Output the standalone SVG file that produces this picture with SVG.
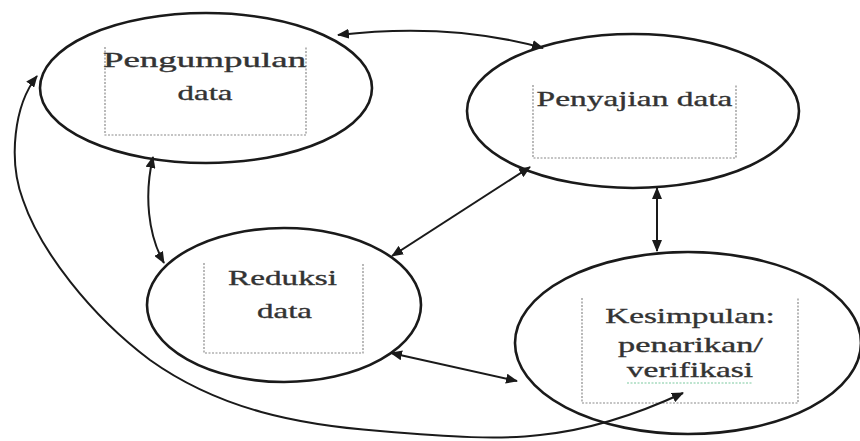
<svg xmlns="http://www.w3.org/2000/svg" width="860" height="441" viewBox="0 0 860 441">
<defs>
<marker id="ah" viewBox="0 0 12 10" refX="11" refY="5" markerWidth="12" markerHeight="10" markerUnits="userSpaceOnUse" orient="auto-start-reverse">
<path d="M0 0 L12 5 L0 10 Z" fill="#1a1a1a"/>
</marker>
</defs>
<style>
.node ellipse{fill:none;stroke:#1a1a1a;stroke-width:2.6}
.box{fill:none;stroke:#8a8a8a;stroke-width:1.2;stroke-dasharray:2 1.5}
.lbl{font-family:"Liberation Serif","Times New Roman",serif;font-size:22px;fill:#333;stroke:#333;stroke-width:0.35;text-anchor:middle}
.conn path{fill:none;stroke:#1a1a1a;stroke-width:2;marker-start:url(#ah);marker-end:url(#ah)}
</style>
<rect width="860" height="441" fill="#fff"/>
<g id="pengumpulan" class="node">
<ellipse cx="206" cy="88" rx="166" ry="75"/>
<path class="box" d="M105 47 V135 H306 V47"/>
<text class="lbl" font-family="Liberation Serif, serif" transform="translate(204.5 67) scale(1.68 1)">Pengumpulan</text>
<text class="lbl" font-family="Liberation Serif, serif" transform="translate(205 100) scale(1.5 1)">data</text>
</g>
<g id="penyajian" class="node">
<ellipse cx="633" cy="111" rx="166" ry="77"/>
<path class="box" d="M533 85 V158 H736 V85"/>
<text class="lbl" font-family="Liberation Serif, serif" transform="translate(634.5 106) scale(1.52 1)">Penyajian data</text>
</g>
<g id="reduksi" class="node">
<ellipse cx="284" cy="305" rx="137" ry="77"/>
<path class="box" d="M204 263 V353 H363 V263"/>
<text class="lbl" font-family="Liberation Serif, serif" transform="translate(282.5 285) scale(1.51 1)">Reduksi</text>
<text class="lbl" font-family="Liberation Serif, serif" transform="translate(284.5 318) scale(1.5 1)">data</text>
</g>
<g id="kesimpulan" class="node">
<ellipse cx="688" cy="343" rx="173" ry="91"/>
<path class="box" d="M582 298 V403 H798 V298"/>
<text class="lbl" font-family="Liberation Serif, serif" transform="translate(690 323) scale(1.51 1)">Kesimpulan:</text>
<text class="lbl" font-family="Liberation Serif, serif" transform="translate(690.5 352) scale(1.56 1)">penarikan/</text>
<text class="lbl" font-family="Liberation Serif, serif" transform="translate(690 377) scale(1.52 1)">verifikasi</text>
<path d="M627 383 H753" stroke="#7cc9a0" stroke-width="1.2" stroke-dasharray="2 1.5" fill="none"/>
</g>
<g id="connectors" class="conn">
<path d="M338 35 Q450 22 543 48"/>
<path d="M153 157 C144 195 148 235 164 263"/>
<path d="M530 167 L392 256"/>
<path d="M657 188 L657 251"/>
<path d="M391 353 L517 381"/>
<path d="M37 76 C14 105 8 160 23 200 C40 250 90 315 150 360 C220 410 300 425 380 431 C450 437 500 440 540 435 C590 430 640 413 683 393"/>
</g>
</svg>
